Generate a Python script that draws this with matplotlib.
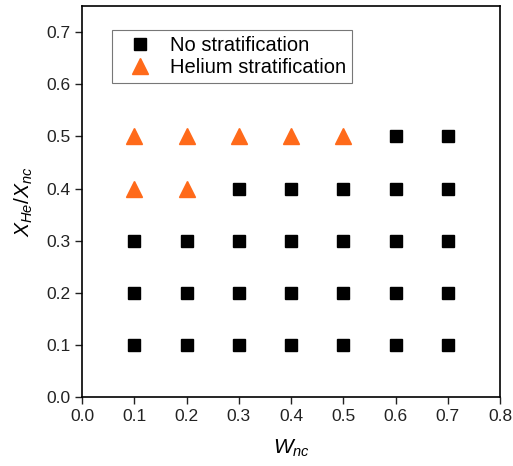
import matplotlib
matplotlib.use("Agg")
import matplotlib.pyplot as plt

plt.rcParams['font.family'] = ['Liberation Sans', 'DejaVu Sans']
plt.rcParams['mathtext.fontset'] = 'custom'
plt.rcParams['mathtext.rm'] = 'Liberation Sans'
plt.rcParams['mathtext.it'] = 'Liberation Sans:italic'

no_strat_x = [0.1, 0.2, 0.3, 0.4, 0.5, 0.6, 0.7,
              0.1, 0.2, 0.3, 0.4, 0.5, 0.6, 0.7,
              0.1, 0.2, 0.3, 0.4, 0.5, 0.6, 0.7,
              0.3, 0.4, 0.5, 0.6, 0.7,
              0.6, 0.7]
no_strat_y = [0.1] * 7 + [0.2] * 7 + [0.3] * 7 + [0.4] * 5 + [0.5] * 2

he_strat_x = [0.1, 0.2, 0.3, 0.4, 0.5, 0.1, 0.2]
he_strat_y = [0.5, 0.5, 0.5, 0.5, 0.5, 0.4, 0.4]

xticks = [0.0, 0.1, 0.2, 0.3, 0.4, 0.5, 0.6, 0.7, 0.8]
yticks = [0.0, 0.1, 0.2, 0.3, 0.4, 0.5, 0.6, 0.7]

fig = plt.figure(figsize=(5.13, 4.66), dpi=100)
ax = fig.add_axes([0.160, 0.148, 0.815, 0.839])

ax.plot(no_strat_x, no_strat_y, linestyle='none', marker='s', markersize=8.5,
        color='black', label='No stratification')
ax.plot(he_strat_x, he_strat_y, linestyle='none', marker='^', markersize=11,
        color='#ff6a1a', label='Helium stratification')

ax.set_xlim(0.0, 0.8)
ax.set_ylim(0.0, 0.75)
ax.set_xticks(xticks)
ax.set_yticks(yticks)
ax.set_xticklabels([f'{v:.1f}' for v in xticks])
ax.set_yticklabels([f'{v:.1f}' for v in yticks])
ax.tick_params(direction='out', length=5, width=1, labelsize=12.5, colors='#222222',
               top=False, right=False)
for s in ax.spines.values():
    s.set_linewidth(1.2)

ax.set_xlabel(r'$W_{nc}$', fontsize=15, labelpad=10)
ax.set_ylabel(r'$X_{He}/X_{nc}$', fontsize=15, labelpad=8)

leg = ax.legend(loc='upper left', bbox_to_anchor=(0.072, 0.939), fontsize=14.5,
                frameon=True, fancybox=False, edgecolor='#555555',
                handletextpad=0.35, borderpad=0.3, labelspacing=0.15,
                handlelength=2.2, borderaxespad=0)
leg.get_frame().set_linewidth(0.8)

fig.savefig('out.png', dpi=100)
